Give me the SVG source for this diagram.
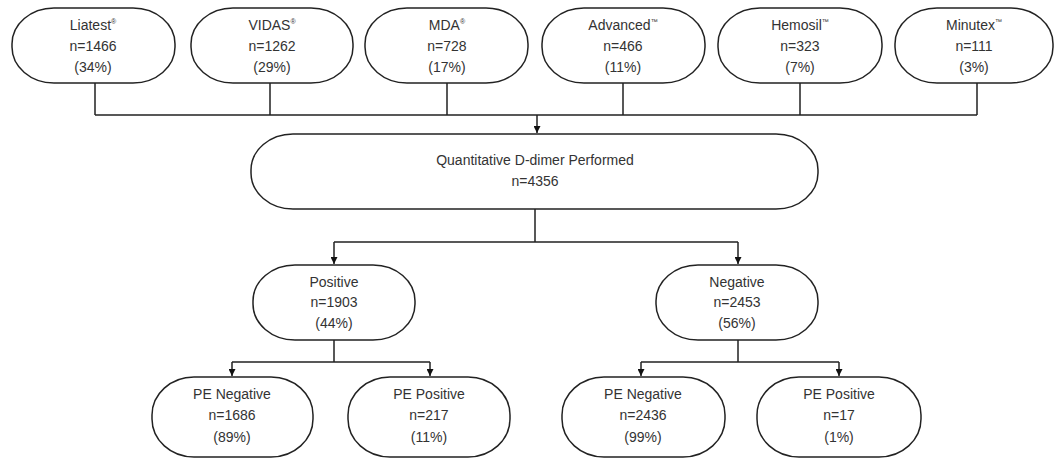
<svg xmlns="http://www.w3.org/2000/svg" width="1057" height="460" viewBox="0 0 1057 460">
<defs>
<style>
.n{fill:#fff;stroke:#222;stroke-width:1.5}
.t{font-family:"Liberation Sans",Arial,sans-serif;font-size:14px;fill:#333;text-anchor:middle}
.s{font-size:7px}
.c{fill:none;stroke:#222;stroke-width:1.5}
</style>
<marker id="a" viewBox="0 0 10 10" refX="10" refY="5" markerWidth="7" markerHeight="7" orient="auto" markerUnits="userSpaceOnUse">
<path d="M0,0 L10,5 L0,10 z" fill="#111"/>
</marker>
</defs>
<rect width="1057" height="460" fill="#fff"/>
<g id="connectors">
<path class="c" d="M95,83 V115 M270,83 V115 M447,83 V115 M623,83 V115 M800,83 V115 M977,83 V115 M95,115 H977"/>
<path class="c" d="M537,115 V133" marker-end="url(#a)"/>
<path class="c" d="M535,209 V242 M334,242 H738"/>
<path class="c" d="M334,242 V264" marker-end="url(#a)"/>
<path class="c" d="M738,242 V264" marker-end="url(#a)"/>
<path class="c" d="M334,340 V362 M232,362 H430"/>
<path class="c" d="M232,362 V376" marker-end="url(#a)"/>
<path class="c" d="M430,362 V376" marker-end="url(#a)"/>
<path class="c" d="M738,340 V362 M641,362 H839"/>
<path class="c" d="M641,362 V376" marker-end="url(#a)"/>
<path class="c" d="M839,362 V376" marker-end="url(#a)"/>
</g>
<g id="liatest"><rect class="n" x="12" y="8" width="163" height="75" rx="42" ry="36"/>
<text class="t" x="93" y="30">Liatest<tspan class="s" dy="-6">®</tspan></text><text class="t" x="93" y="51">n=1466</text><text class="t" x="93" y="72">(34%)</text></g>
<g id="vidas"><rect class="n" x="191" y="8" width="162" height="75" rx="42" ry="36"/>
<text class="t" x="272" y="30">VIDAS<tspan class="s" dy="-6">®</tspan></text><text class="t" x="272" y="51">n=1262</text><text class="t" x="272" y="72">(29%)</text></g>
<g id="mda"><rect class="n" x="365" y="8" width="163" height="75" rx="42" ry="36"/>
<text class="t" x="447" y="30">MDA<tspan class="s" dy="-6">®</tspan></text><text class="t" x="447" y="51">n=728</text><text class="t" x="447" y="72">(17%)</text></g>
<g id="advanced"><rect class="n" x="542" y="8" width="163" height="75" rx="42" ry="36"/>
<text class="t" x="623" y="30">Advanced<tspan class="s" dy="-6">™</tspan></text><text class="t" x="623" y="51">n=466</text><text class="t" x="623" y="72">(11%)</text></g>
<g id="hemosil"><rect class="n" x="718" y="8" width="164" height="75" rx="42" ry="36"/>
<text class="t" x="800" y="30">Hemosil<tspan class="s" dy="-6">™</tspan></text><text class="t" x="800" y="51">n=323</text><text class="t" x="800" y="72">(7%)</text></g>
<g id="minutex"><rect class="n" x="895" y="8" width="158" height="75" rx="42" ry="36"/>
<text class="t" x="974" y="30">Minutex<tspan class="s" dy="-6">™</tspan></text><text class="t" x="974" y="51">n=111</text><text class="t" x="974" y="72">(3%)</text></g>
<g id="ddimer"><rect class="n" x="251" y="134" width="567" height="75" rx="42" ry="36"/>
<text class="t" x="535" y="165">Quantitative D-dimer Performed</text><text class="t" x="535" y="186">n=4356</text></g>
<g id="positive"><rect class="n" x="253" y="265" width="162" height="75" rx="42" ry="36"/>
<text class="t" x="334" y="287">Positive</text><text class="t" x="334" y="307">n=1903</text><text class="t" x="334" y="328">(44%)</text></g>
<g id="negative"><rect class="n" x="656" y="265" width="162" height="75" rx="42" ry="36"/>
<text class="t" x="737" y="287">Negative</text><text class="t" x="737" y="307">n=2453</text><text class="t" x="737" y="328">(56%)</text></g>
<g id="pos-peneg"><rect class="n" x="152" y="377" width="161" height="80" rx="42" ry="38"/>
<text class="t" x="232" y="399">PE Negative</text><text class="t" x="232" y="420">n=1686</text><text class="t" x="232" y="442">(89%)</text></g>
<g id="pos-pepos"><rect class="n" x="348" y="377" width="162" height="80" rx="42" ry="38"/>
<text class="t" x="429" y="399">PE Positive</text><text class="t" x="429" y="420">n=217</text><text class="t" x="429" y="442">(11%)</text></g>
<g id="neg-peneg"><rect class="n" x="562" y="377" width="163" height="80" rx="42" ry="38"/>
<text class="t" x="643" y="399">PE Negative</text><text class="t" x="643" y="420">n=2436</text><text class="t" x="643" y="442">(99%)</text></g>
<g id="neg-pepos"><rect class="n" x="757" y="377" width="164" height="80" rx="42" ry="38"/>
<text class="t" x="839" y="399">PE Positive</text><text class="t" x="839" y="420">n=17</text><text class="t" x="839" y="442">(1%)</text></g>
</svg>
